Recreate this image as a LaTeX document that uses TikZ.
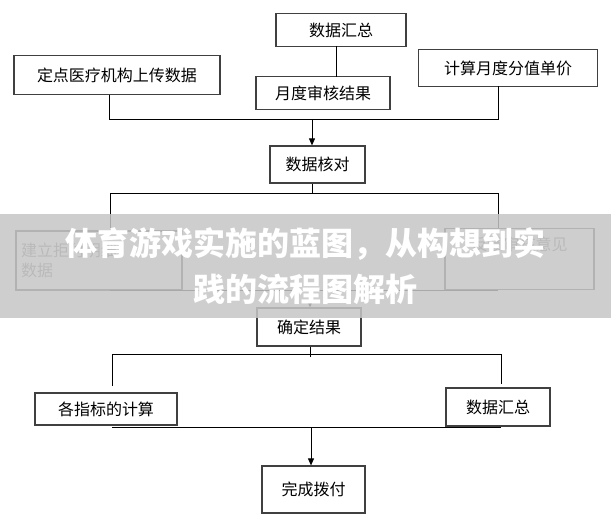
\documentclass[tikz,border=0pt]{standalone}
\usepackage{fontspec}
\setmainfont{Noto Sans CJK SC}
\usetikzlibrary{arrows.meta}

\tikzset{
  flowbox/.style={draw=black!75, line width=1.2pt, inner sep=0pt, font=\fontsize{16}{20}\selectfont},
  link/.style={line width=0.9pt},
  flowarrow/.style={line width=0.9pt, -{Triangle[length=7pt,width=6pt]}}
}

\begin{document}
\begin{tikzpicture}[x=1pt,y=-1pt]
  \useasboundingbox (0,0) rectangle (611,532);

  % top row
  \node[flowbox, minimum width=130pt, minimum height=33pt] (sumtop) at (341,30) {数据汇总};
  \node[flowbox, minimum width=206pt, minimum height=39pt] (upload) at (117,75) {定点医疗机构上传数据};
  \node[flowbox, minimum width=134pt, minimum height=33pt] (monthly) at (323,93) {月度审核结果};
  \node[flowbox, minimum width=179pt, minimum height=37pt] (price) at (508,68) {计算月度分值单价};
  \draw[link] (336,46) -- (336,77);
  \coordinate (j1l) at (109,119);
  \coordinate (j1r) at (498,119);
  \coordinate (j1m) at (312,119);
  \draw[link] (109,95) -- (j1l) -- (j1r) -- (498,86);
  \node[flowbox, minimum width=95pt, minimum height=37pt] (check) at (317.5,164.5) {数据核对};
  \draw[flowarrow] (j1m) -- (check.north -| j1m);

  % middle row
  \coordinate (j2l) at (110,193);
  \coordinate (j2r) at (498,193);
  \draw[link] (check.south -| j1m) -- (312,193);
  \draw[link] (110,230) -- (j2l) -- (j2r) -- (498,228);
  \node[flowbox, minimum width=166pt, minimum height=59pt, align=left, text width=156pt, text=black!55] (reject) at (99,260.5) {建立拒付明细\\数据};
  \node[flowbox, minimum width=149pt, minimum height=61pt, text=black!55, anchor=north, text depth=30pt] (advice) at (519.5,228) {反馈审核意见};
  \coordinate (j3l) at (110,290);
  \coordinate (j3r) at (498,290);
  \coordinate (j3m) at (310,290);
  \draw[link] (j3l) -- (j3r);
  \node[flowbox, minimum width=104pt, minimum height=38pt] (confirm) at (309,327) {确定结果};
  \draw[flowarrow] (j3m) -- (confirm.north -| j3m);

  % bottom row
  \coordinate (j4l) at (112,354);
  \coordinate (j4r) at (501,354);
  \draw[link] (confirm.south -| j3m) -- (310,357);
  \draw[link] (112,386) -- (j4l) -- (j4r) -- (501,384);
  \node[flowbox, minimum width=142pt, minimum height=32pt] (calc) at (106,409) {各指标的计算};
  \node[flowbox, minimum width=104pt, minimum height=38pt] (sumbot) at (498,407) {数据汇总};
  \coordinate (j5l) at (112,427);
  \coordinate (j5r) at (501,427);
  \coordinate (j5m) at (311,427);
  \draw[link] (j5l) -- (j5r);
  \node[flowbox, minimum width=103pt, minimum height=47pt] (pay) at (313.5,489.5) {完成拨付};
  \draw[flowarrow] (j5m) -- (pay.north -| j5m);

  % title banner
  \fill[gray!45, opacity=0.85] (0,214) rectangle (611,318);
  \node[text=white, font=\bfseries\fontsize{32}{46}\selectfont, align=center] (title) at (305.5,266) {体育游戏实施的蓝图，从构想到实\\践的流程图解析};
\end{tikzpicture}
\end{document}
